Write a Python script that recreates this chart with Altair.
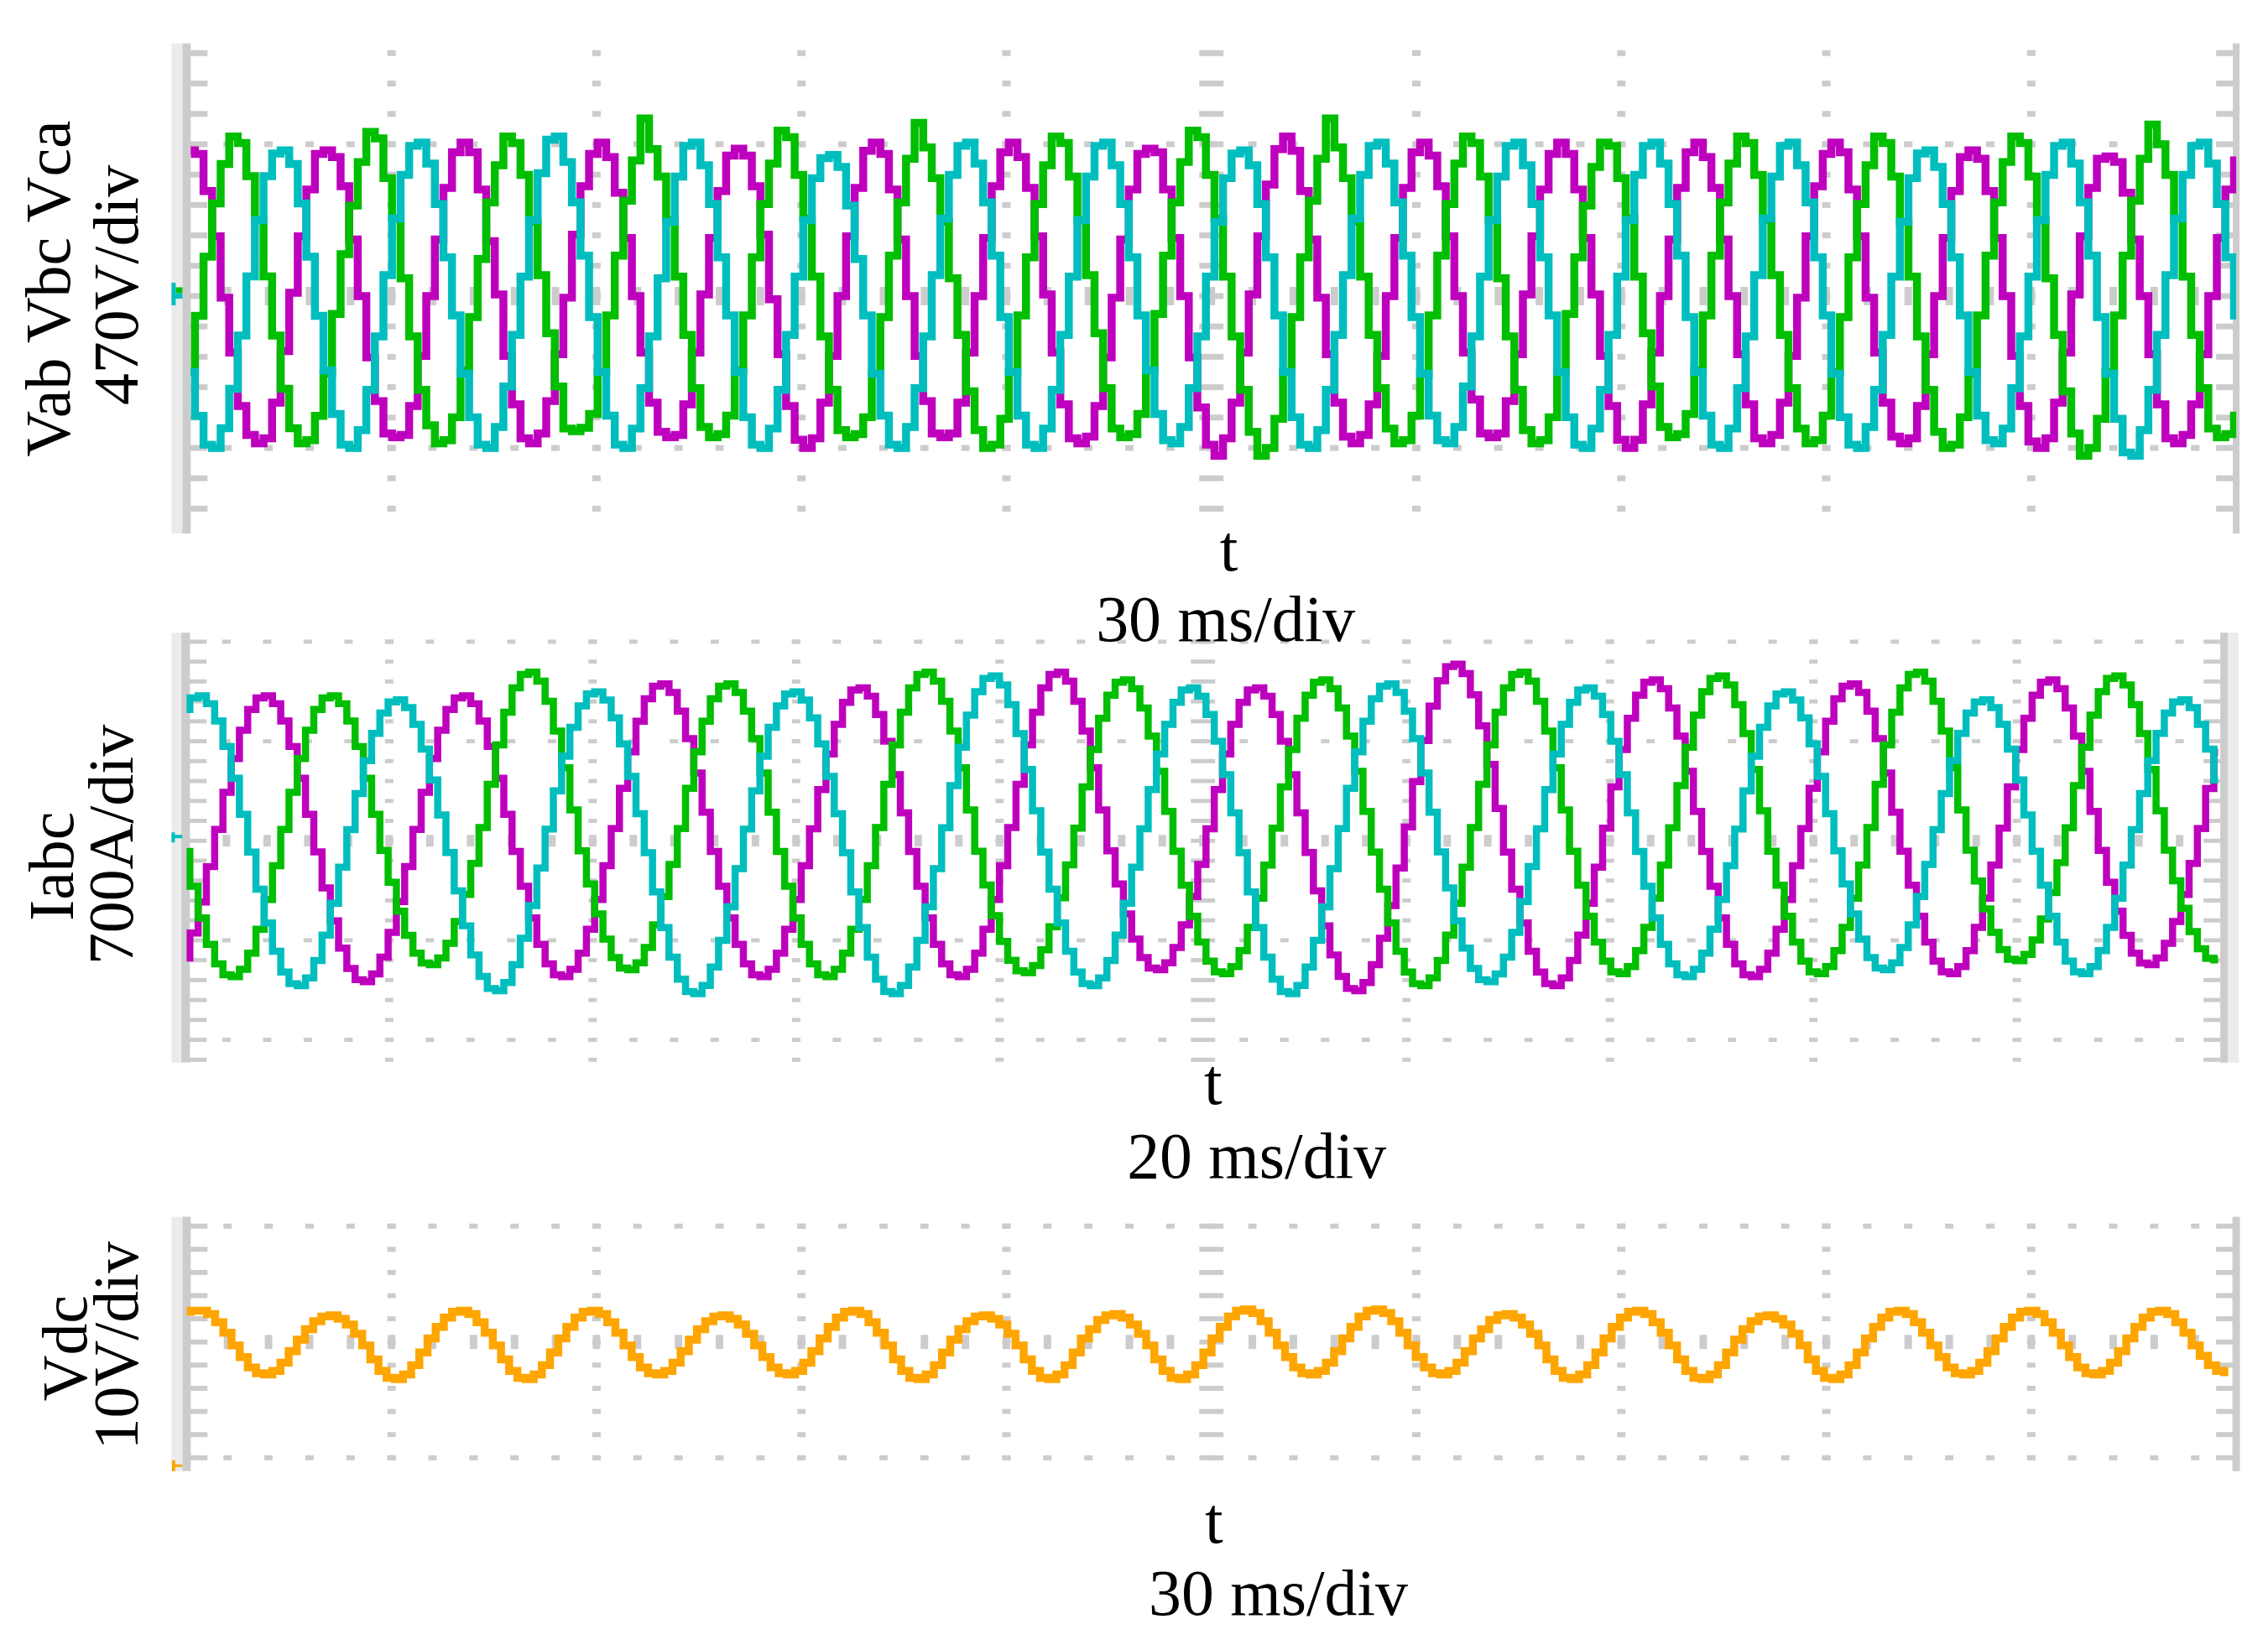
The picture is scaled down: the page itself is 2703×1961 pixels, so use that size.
import altair as alt
import numpy as np
import pandas as pd

# ---------------- data ----------------
# Top panel: line voltages (V), 16 samples per mains cycle (one line per cycle)
v_ab = [
    451, 440, 325, 185, -5, -175, -340, -430, -456, -440, -330, -170, 10, 185, 330, 440,
    451, 430, 340, 175, 0, -190, -325, -425, -437, -430, -340, -185, 0, 175, 335, 445,
    475, 445, 330, 170, 5, -185, -335, -440, -456, -425, -325, -180, -5, 190, 340, 440,
    475, 430, 320, 180, 0, -175, -330, -420, -437, -430, -335, -175, 5, 180, 325, 435,
    456, 435, 340, 190, -10, -180, -340, -445, -470, -440, -330, -185, 0, 185, 335, 450,
    475, 440, 330, 175, 0, -185, -325, -425, -437, -425, -330, -175, 0, 180, 340, 445,
    475, 430, 335, 185, 5, -175, -335, -440, -456, -435, -340, -190, -5, 175, 330, 440,
    456, 445, 330, 180, 0, -190, -345, -460, -494, -440, -330, -175, 5, 185, 345, 455,
    494, 450, 325, 175, -5, -180, -330, -435, -456, -430, -335, -185, 0, 180, 335, 445,
    475, 435, 340, 185, 0, -175, -320, -425, -437, -425, -325, -180, 5, 185, 330, 440,
    475, 440, 330, 180, 5, -185, -340, -445, -470, -445, -335, -175, 0, 175, 335, 445,
    475, 430, 335, 175, 0, -180, -335, -440, -456, -430, -330, -185, -5, 185, 340, 440,
    475, 445, 330, 185, -5, -175, -330, -435, -456, -440, -340, -180, 0, 180, 325, 430,
    451, 425, 325, 180, 0, -185, -340, -450, -470, -440, -330, -175, 5, 185, 335, 425,
    432, 415, 320, 175, 0, -180, -335, -440, -456, -430, -335, -180, 0, 180, 330, 420,
]
v_bc = [
    -235, -61, 122, 287, 409, 494, 474, 371, 235, 61, -122, -287, -409, -456, -446, -371,
    -240, -55, 130, 280, 415, 508, 488, 365, 240, 55, -125, -290, -400, -456, -446, -375,
    -230, -65, 115, 290, 405, 494, 474, 375, 230, 65, -115, -280, -410, -418, -408, -365,
    -235, -60, 125, 295, 420, 550, 455, 370, 235, 60, -120, -285, -405, -437, -427, -370,
    -230, -60, 120, 285, 410, 512, 492, 375, 240, 60, -125, -290, -415, -437, -427, -375,
    -240, -65, 125, 290, 425, 536, 460, 365, 230, 55, -120, -295, -415, -470, -460, -380,
    -235, -60, 120, 285, 405, 494, 474, 370, 235, 65, -115, -285, -410, -437, -427, -365,
    -230, -55, 125, 290, 415, 512, 492, 375, 240, 60, -125, -290, -420, -494, -470, -380,
    -235, -65, 120, 295, 425, 550, 460, 365, 230, 60, -120, -285, -410, -456, -446, -370,
    -240, -60, 125, 285, 410, 494, 474, 370, 235, 55, -125, -290, -415, -456, -446, -375,
    -235, -55, 120, 280, 400, 475, 465, 365, 240, 60, -115, -280, -405, -437, -427, -365,
    -230, -60, 125, 290, 410, 494, 474, 375, 235, 65, -120, -285, -410, -456, -446, -370,
    -235, -65, 120, 285, 405, 494, 474, 370, 230, 60, -125, -290, -420, -470, -460, -375,
    -240, -60, 125, 290, 415, 494, 474, 370, 235, 55, -120, -295, -425, -494, -470, -380,
    -235, -60, 125, 295, 425, 531, 470, 375, 240, 60, -120, -285, -410, -437, -427, -370,
]
v_ca = [
    -235, -371, -460, -470, -409, -287, -122, 61, 235, 371, 441, 451, 409, 287, 122, -61,
    -230, -365, -460, -470, -415, -290, -125, 65, 240, 375, 465, 475, 410, 285, 120, -60,
    -240, -375, -460, -470, -405, -280, -120, 60, 235, 380, 484, 494, 415, 290, 125, -65,
    -235, -370, -460, -470, -410, -285, -125, 55, 230, 370, 465, 475, 405, 285, 120, -60,
    -235, -375, -460, -470, -410, -290, -120, 60, 235, 365, 427, 437, 400, 280, 115, -60,
    -240, -370, -460, -470, -405, -285, -125, 65, 240, 375, 465, 475, 410, 290, 125, -65,
    -235, -370, -460, -470, -410, -290, -120, 60, 235, 370, 465, 475, 405, 285, 120, -60,
    -230, -365, -446, -456, -405, -285, -125, 60, 230, 365, 441, 451, 405, 285, 120, -60,
    -235, -375, -460, -470, -415, -290, -120, 65, 240, 375, 465, 475, 410, 290, 125, -65,
    -240, -370, -446, -456, -405, -280, -125, 60, 235, 370, 465, 475, 405, 285, 120, -60,
    -235, -375, -460, -470, -410, -290, -120, 60, 235, 375, 465, 475, 410, 285, 125, -65,
    -235, -370, -460, -470, -410, -285, -125, 65, 240, 370, 465, 475, 405, 290, 120, -60,
    -240, -375, -460, -470, -405, -290, -120, 60, 230, 365, 441, 451, 400, 285, 120, -60,
    -235, -370, -446, -456, -410, -285, -125, 60, 235, 375, 465, 475, 410, 290, 125, -65,
    -240, -380, -484, -494, -415, -290, -120, 65, 240, 375, 465, 475, 410, 285, 120, -60,
]

# Middle panel: phase currents (A), 24 samples per cycle (one line per half cycle)
i_a = [
    -824, -649, -431, -182,
    80, 341, 578, 777, 923, 1005, 1019, 964, 842, 663, 440, 186,
    -78, -332, -563, -755, -898, -977, -991, -937, -819, -645, -428, -181,
    80, 341, 578, 777, 923, 1005, 1019, 964, 842, 663, 440, 186,
    -75, -320, -543, -729, -866, -943, -956, -904, -790, -622, -413, -175,
    86, 369, 626, 841, 999, 1087, 1103, 1043, 911, 718, 477, 201,
    -75, -320, -543, -729, -866, -943, -956, -904, -790, -622, -413, -175,
    84, 360, 610, 819, 973, 1060, 1075, 1017, 888, 700, 465, 196,
    -75, -320, -543, -729, -866, -943, -956, -904, -790, -622, -413, -175,
    93, 397, 674, 904, 1075, 1170, 1186, 1122, 981, 772, 513, 217,
    -71, -304, -515, -692, -822, -895, -907, -858, -750, -591, -392, -166,
    84, 360, 610, 819, 973, 1060, 1075, 1017, 888, 700, 465, 196,
    -82, -353, -598, -803, -954, -1039, -1054, -997, -871, -686, -456, -192,
    97, 416, 705, 947, 1125, 1225, 1242, 1175, 1027, 809, 537, 227,
    -80, -341, -578, -777, -923, -1005, -1019, -964, -842, -663, -440, -186,
    88, 379, 642, 862, 1024, 1115, 1131, 1069, 934, 736, 489, 206,
    -75, -320, -543, -729, -866, -943, -956, -904, -790, -622, -413, -175,
    86, 369, 626, 841, 999, 1087, 1103, 1043, 911, 718, 477, 201,
    -73, -313, -531, -713, -847, -922, -935, -885, -773, -609, -404, -171,
    88, 379, 642, 862, 1024, 1115, 1131, 1069, 934, 736, 489, 206,
    -68, -292, -495, -665, -790, -860, -872, -825, -721, -568, -377, -159,
    86, 367, 623,
]
i_b = [
    -75, -320, -543, -729, -866, -943, -956, -904, -790, -622, -413, -175,
    80, 341, 578, 777, 923, 1005, 1019, 964, 842, 663, 440, 186,
    -68, -292, -495, -665, -790, -860, -872, -825, -721, -568, -377, -159,
    93, 397, 674, 904, 1075, 1170, 1186, 1122, 981, 772, 513, 217,
    -71, -304, -515, -692, -822, -895, -907, -858, -750, -591, -392, -166,
    86, 369, 626, 841, 999, 1087, 1103, 1043, 911, 718, 477, 201,
    -75, -320, -543, -729, -866, -943, -956, -904, -790, -622, -413, -175,
    93, 397, 674, 904, 1075, 1170, 1186, 1122, 981, 772, 513, 217,
    -73, -311, -527, -708, -841, -915, -928, -878, -767, -604, -401, -169,
    88, 379, 642, 862, 1024, 1115, 1131, 1069, 934, 736, 489, 206,
    -73, -313, -531, -713, -847, -922, -935, -885, -773, -609, -404, -171,
    88, 379, 642, 862, 1024, 1115, 1131, 1069, 934, 736, 489, 206,
    -80, -341, -578, -777, -923, -1005, -1019, -964, -842, -663, -440, -186,
    93, 397, 674, 904, 1075, 1170, 1186, 1122, 981, 772, 513, 217,
    -73, -313, -531, -713, -847, -922, -935, -885, -773, -609, -404, -171,
    91, 388, 658, 883, 1049, 1142, 1159, 1096, 957, 754, 501, 211,
    -73, -313, -531, -713, -847, -922, -935, -885, -773, -609, -404, -171,
    93, 397, 674, 904, 1075, 1170, 1186, 1122, 981, 772, 513, 217,
    -66, -283, -479, -644, -765, -833, -844, -799, -698, -550, -365, -154,
    91, 388, 658, 883, 1049, 1142, 1159, 1096, 957, 754, 501, 211,
    -66, -281, -475, -638, -759, -826, -837,
]
i_c = [
    923, 1005, 1019, 964, 842, 663, 440, 186,
    -80, -341, -578, -777, -923, -1005, -1019, -964, -842, -663, -440, -186,
    78, 332, 563, 755, 898, 977, 991, 937, 819, 645, 428, 181,
    -82, -353, -598, -803, -954, -1039, -1054, -997, -871, -686, -456, -192,
    82, 351, 594, 798, 948, 1032, 1047, 990, 865, 681, 453, 191,
    -84, -360, -610, -819, -973, -1060, -1075, -1017, -888, -700, -465, -196,
    82, 351, 594, 798, 948, 1032, 1047, 990, 865, 681, 453, 191,
    -84, -360, -610, -819, -973, -1060, -1075, -1017, -888, -700, -465, -196,
    91, 388, 658, 883, 1049, 1142, 1159, 1096, 957, 754, 501, 211,
    -80, -341, -578, -777, -923, -1005, -1019, -964, -842, -663, -440, -186,
    84, 360, 610, 819, 973, 1060, 1075, 1017, 888, 700, 465, 196,
    -84, -360, -610, -819, -973, -1060, -1075, -1017, -888, -700, -465, -196,
    86, 369, 626, 841, 999, 1087, 1103, 1043, 911, 718, 477, 201,
    -78, -332, -563, -755, -898, -977, -991, -937, -819, -645, -428, -181,
    84, 360, 610, 819, 973, 1060, 1075, 1017, 888, 700, 465, 196,
    -75, -320, -543, -729, -866, -943, -956, -904, -790, -622, -413, -175,
    82, 351, 594, 798, 948, 1032, 1047, 990, 865, 681, 453, 191,
    -71, -304, -515, -692, -822, -895, -907, -858, -750, -591, -392, -166,
    78, 332, 563, 755, 898, 977, 991, 937, 819, 645, 428, 181,
    -73, -313, -531, -713, -847, -922, -935, -885, -773, -609, -404, -171,
    78, 332, 563, 755, 898, 977, 991, 937, 819, 645, 428,
]

# Bottom panel: DC-link voltage ripple (V), 16 samples per ripple period (one line per half period)
v_dc = [
    2.6, 2.7, 2.7, 2.4, 1.7, 0.8,
    -0.3, -1.3, -2.2, -2.7, -2.8, -2.5, -1.8, -0.8,
    0.2, 1.1, 1.8, 2.2, 2.3, 2.0, 1.5, 0.7,
    -0.3, -1.5, -2.5, -3.1, -3.2, -2.8, -2.0, -0.9,
    0.3, 1.3, 2.1, 2.6, 2.7, 2.4, 1.7, 0.8,
    -0.3, -1.5, -2.5, -3.1, -3.2, -2.8, -2.0, -0.9,
    0.3, 1.3, 2.1, 2.6, 2.7, 2.4, 1.7, 0.8,
    -0.3, -1.3, -2.2, -2.7, -2.8, -2.5, -1.8, -0.8,
    0.2, 1.1, 1.8, 2.2, 2.3, 2.0, 1.5, 0.7,
    -0.3, -1.3, -2.2, -2.7, -2.8, -2.5, -1.8, -0.8,
    0.3, 1.3, 2.1, 2.6, 2.7, 2.4, 1.7, 0.8,
    -0.3, -1.5, -2.5, -3.1, -3.2, -2.8, -2.0, -0.9,
    0.2, 1.1, 1.8, 2.2, 2.3, 2.0, 1.5, 0.7,
    -0.3, -1.5, -2.5, -3.1, -3.2, -2.8, -2.0, -0.9,
    0.3, 1.1, 1.9, 2.3, 2.4, 2.1, 1.5, 0.7,
    -0.3, -1.5, -2.5, -3.1, -3.2, -2.8, -2.0, -0.9,
    0.3, 1.3, 2.2, 2.7, 2.8, 2.5, 1.8, 0.8,
    -0.3, -1.3, -2.2, -2.7, -2.8, -2.5, -1.8, -0.8,
    0.3, 1.3, 2.2, 2.7, 2.8, 2.5, 1.8, 0.8,
    -0.3, -1.3, -2.2, -2.7, -2.8, -2.5, -1.8, -0.8,
    0.3, 1.1, 1.9, 2.3, 2.4, 2.1, 1.5, 0.7,
    -0.3, -1.5, -2.5, -3.1, -3.2, -2.8, -2.0, -0.9,
    0.3, 1.3, 2.1, 2.6, 2.7, 2.4, 1.7, 0.8,
    -0.3, -1.5, -2.5, -3.1, -3.2, -2.8, -2.0, -0.9,
    0.2, 1.1, 1.8, 2.2, 2.3, 2.0, 1.5, 0.7,
    -0.3, -1.5, -2.5, -3.1, -3.2, -2.8, -2.0, -0.9,
    0.3, 1.3, 2.1, 2.6, 2.7, 2.4, 1.7, 0.8,
    -0.3, -1.3, -2.2, -2.7, -2.8, -2.5, -1.8, -0.8,
    0.3, 1.3, 2.1, 2.6, 2.7, 2.4, 1.7, 0.8,
    -0.3, -1.3, -2.2, -2.7, -2.8, -2.5, -1.8, -0.8,
    0.3, 1.3, 2.1, 2.6, 2.7, 2.4, 1.7, 0.8,
    -0.3, -1.2, -2.0, -2.5, -2.6,
]

# sampling time bases (ms)
V_T0, V_DT = 0.6, 1.254
I_T0, I_DT = 0.0, 0.8121
D_T0, D_DT = 0.0, 1.1954

# text labels
y_labels = [("Vab Vbc Vca", -140, 293), ("470V/div", -59, 289),
            ("Iabc", -136, 984), ("700A/div", -65, 958),
            ("Vdc", -120, 1560), ("10V/div", -59, 1557)]
x_labels = [("t", 1246, 630), ("30 ms/div", 1242, 714),
            ("t", 1227, 1268), ("20 ms/div", 1279, 1356),
            ("t", 1228, 1793), ("30 ms/div", 1305, 1879)]

# ---------------- styling ----------------
MAGENTA, GREEN, CYAN, ORANGE = "#BE00BE", "#00BE00", "#00BEBE", "#FFA500"
GRID, LIGHT = "#CCCCCC", "#EBEBEB"
FONT = "Liberation Serif"
W, H = 2450, 1707


def S(dom, rng):
    return alt.Scale(domain=dom, range=rng, nice=False, zero=False)


def rect(x0, y0, x1, y1):
    return f"M{x0},{y0}L{x1},{y0}L{x1},{y1}L{x0},{y1}Z"


def grid_layer(xs, ys, xdiv, ydiv, kmin, kmax, dot_h, tall_h, wide_h, tick_h, rtick):
    xmin = [j * xdiv / 5 for j in range(1, 50)]
    ymin = [k * ydiv / 5 for k in range(kmin, kmax + 1)]
    rows = []
    for m in range(-3, 4):
        if m != 0 and kmin <= 5 * m <= kmax:
            rows += [(x, m * ydiv, "dot") for x in xmin]
    rows += [(x, 0.0, "tall") for x in xmin]
    for m in range(1, 10):
        if m != 5:
            rows += [(m * xdiv, y, "dot") for y in ymin]
    rows += [(5 * xdiv, y, "wide") for y in ymin]
    rows += [(0.0, y, "ltick") for y in ymin]
    rows += [(10 * xdiv, y, "rtick") for y in ymin]
    df = pd.DataFrame(rows, columns=["x", "y", "kind"])
    kinds = ["dot", "tall", "wide", "ltick", "rtick"]
    paths = [rect(-5, -dot_h / 2, 5, dot_h / 2),
             rect(-4.5, -tall_h / 2, 4.5, tall_h / 2),
             rect(-14.5, -wide_h / 2, 14.5, wide_h / 2),
             rect(0, -tick_h / 2, 25, tick_h / 2),
             rect(-rtick, -tick_h / 2, 0, tick_h / 2)]
    return alt.Chart(df).mark_point(size=4, filled=True, color=GRID, opacity=1, strokeWidth=0).encode(
        x=alt.X("x:Q", scale=xs, axis=None),
        y=alt.Y("y:Q", scale=ys, axis=None),
        shape=alt.Shape("kind:N", scale=alt.Scale(domain=kinds, range=paths), legend=None),
    )


def vbar(xval, xs, ys, ydom, color, width, xoff):
    df = pd.DataFrame({"x": [xval], "y": [ydom[0]], "y2": [ydom[1]]})
    return alt.Chart(df).mark_rule(color=color, strokeWidth=width, xOffset=xoff).encode(
        x=alt.X("x:Q", scale=xs, axis=None), y=alt.Y("y:Q", scale=ys, axis=None), y2="y2:Q")


def marker(xval, yval, xs, ys, path, color):
    df = pd.DataFrame({"x": [xval], "y": [yval]})
    return alt.Chart(df).mark_point(shape=path, size=4, filled=True, color=color, opacity=1,
                                    strokeWidth=0).encode(
        x=alt.X("x:Q", scale=xs, axis=None), y=alt.Y("y:Q", scale=ys, axis=None))


def trace(t0, dt, values, color, xs, ys, sw):
    df = pd.DataFrame({"t": t0 + dt * np.arange(len(values)), "v": values})
    return alt.Chart(df).mark_line(interpolate="step", color=color, strokeWidth=sw, clip=True).encode(
        x=alt.X("t:Q", scale=xs, axis=None), y=alt.Y("v:Q", scale=ys, axis=None))


layers = []

# ---- top panel ----
xs_t, yd_t = S([0, 300], [0, 2450]), [-735, 782]
ys_t = S(yd_t, [586, 0])
layers += [
    grid_layer(xs_t, ys_t, 30, 470, -7, 8, 7, 22, 7, 7, 24),
    vbar(0, xs_t, ys_t, yd_t, LIGHT, 13, -11.5),
    vbar(0, xs_t, ys_t, yd_t, GRID, 10, 0),
    vbar(300, xs_t, ys_t, yd_t, GRID, 8, 0),
    marker(0, 0, xs_t, ys_t, rect(-13, -10.5, -5, -3.5), GREEN),
    marker(0, 0, xs_t, ys_t, "M-18,-16L-13,-16L-13,-3.5L-5,-3.5L-5,3L-13,3L-13,11L-18,11Z", CYAN),
    trace(V_T0, V_DT, v_ab, MAGENTA, xs_t, ys_t, 9.5),
    trace(V_T0, V_DT, v_bc, GREEN, xs_t, ys_t, 9.5),
    trace(V_T0, V_DT, v_ca, CYAN, xs_t, ys_t, 9.5),
]

# ---- middle panel ----
xs_m, yd_m = S([0, 200], [-1, 2431]), [-1561, 1463]
ys_m = S(yd_m, [1218.7, 704.6])
layers += [
    grid_layer(xs_m, ys_m, 20, 700, -11, 10, 5, 14, 5, 5, 20),
    vbar(0, xs_m, ys_m, yd_m, LIGHT, 13, -10.5),
    vbar(0, xs_m, ys_m, yd_m, GRID, 10, 0),
    vbar(200, xs_m, ys_m, yd_m, GRID, 9, 4.5),
    vbar(200, xs_m, ys_m, yd_m, LIGHT, 13, 15.5),
    marker(0, 0, xs_m, ys_m, "M-17,-10L-13,-10L-13,-7L-4,-7L-4,-3L-13,-3L-13,2L-17,2Z", CYAN),
    trace(I_T0, I_DT, i_a, MAGENTA, xs_m, ys_m, 8.5),
    trace(I_T0, I_DT, i_b, GREEN, xs_m, ys_m, 8.5),
    trace(I_T0, I_DT, i_c, CYAN, xs_m, ys_m, 8.5),
]

# ---- bottom panel ----
xs_b, yd_b = S([0, 300], [0, 2450]), [-11.15, 10.8]
ys_b = S(yd_b, [1707, 1403])
layers += [
    grid_layer(xs_b, ys_b, 30, 10, -5, 5, 6, 17, 6, 6, 24),
    vbar(0, xs_b, ys_b, yd_b, LIGHT, 13, -11.5),
    vbar(0, xs_b, ys_b, yd_b, GRID, 10, 0),
    vbar(300, xs_b, ys_b, yd_b, GRID, 9, 0),
    marker(0, -10, xs_b, ys_b, "M-17.5,3L-13.5,3L-13.5,8L-5,8L-5,11L-13.5,11L-13.5,16L-17.5,16Z", ORANGE),
    trace(D_T0, D_DT, v_dc, ORANGE, xs_b, ys_b, 9.5),
]

# ---- text ----
ydf = pd.DataFrame(y_labels, columns=["label", "px", "py"])
xdf = pd.DataFrame(x_labels, columns=["label", "px", "py"])
layers += [
    alt.Chart(ydf).mark_text(font=FONT, fontSize=76, angle=270, align="center",
                             baseline="alphabetic", color="black").encode(
        text="label:N", x=alt.X("px:Q", scale=None, axis=None), y=alt.Y("py:Q", scale=None, axis=None)),
    alt.Chart(xdf).mark_text(font=FONT, fontSize=78, align="center",
                             baseline="alphabetic", color="black").encode(
        text="label:N", x=alt.X("px:Q", scale=None, axis=None), y=alt.Y("py:Q", scale=None, axis=None)),
]

chart = alt.layer(*layers).resolve_scale(x="independent", y="independent", shape="independent").properties(
    width=W, height=H,
    autosize=alt.AutoSizeParams(type="none"),
    padding={"left": 215, "top": 41, "right": 30, "bottom": 205},
    background="white",
).configure_view(strokeOpacity=0)

chart.save("out.html", embed_options={"renderer": "svg", "actions": False})
